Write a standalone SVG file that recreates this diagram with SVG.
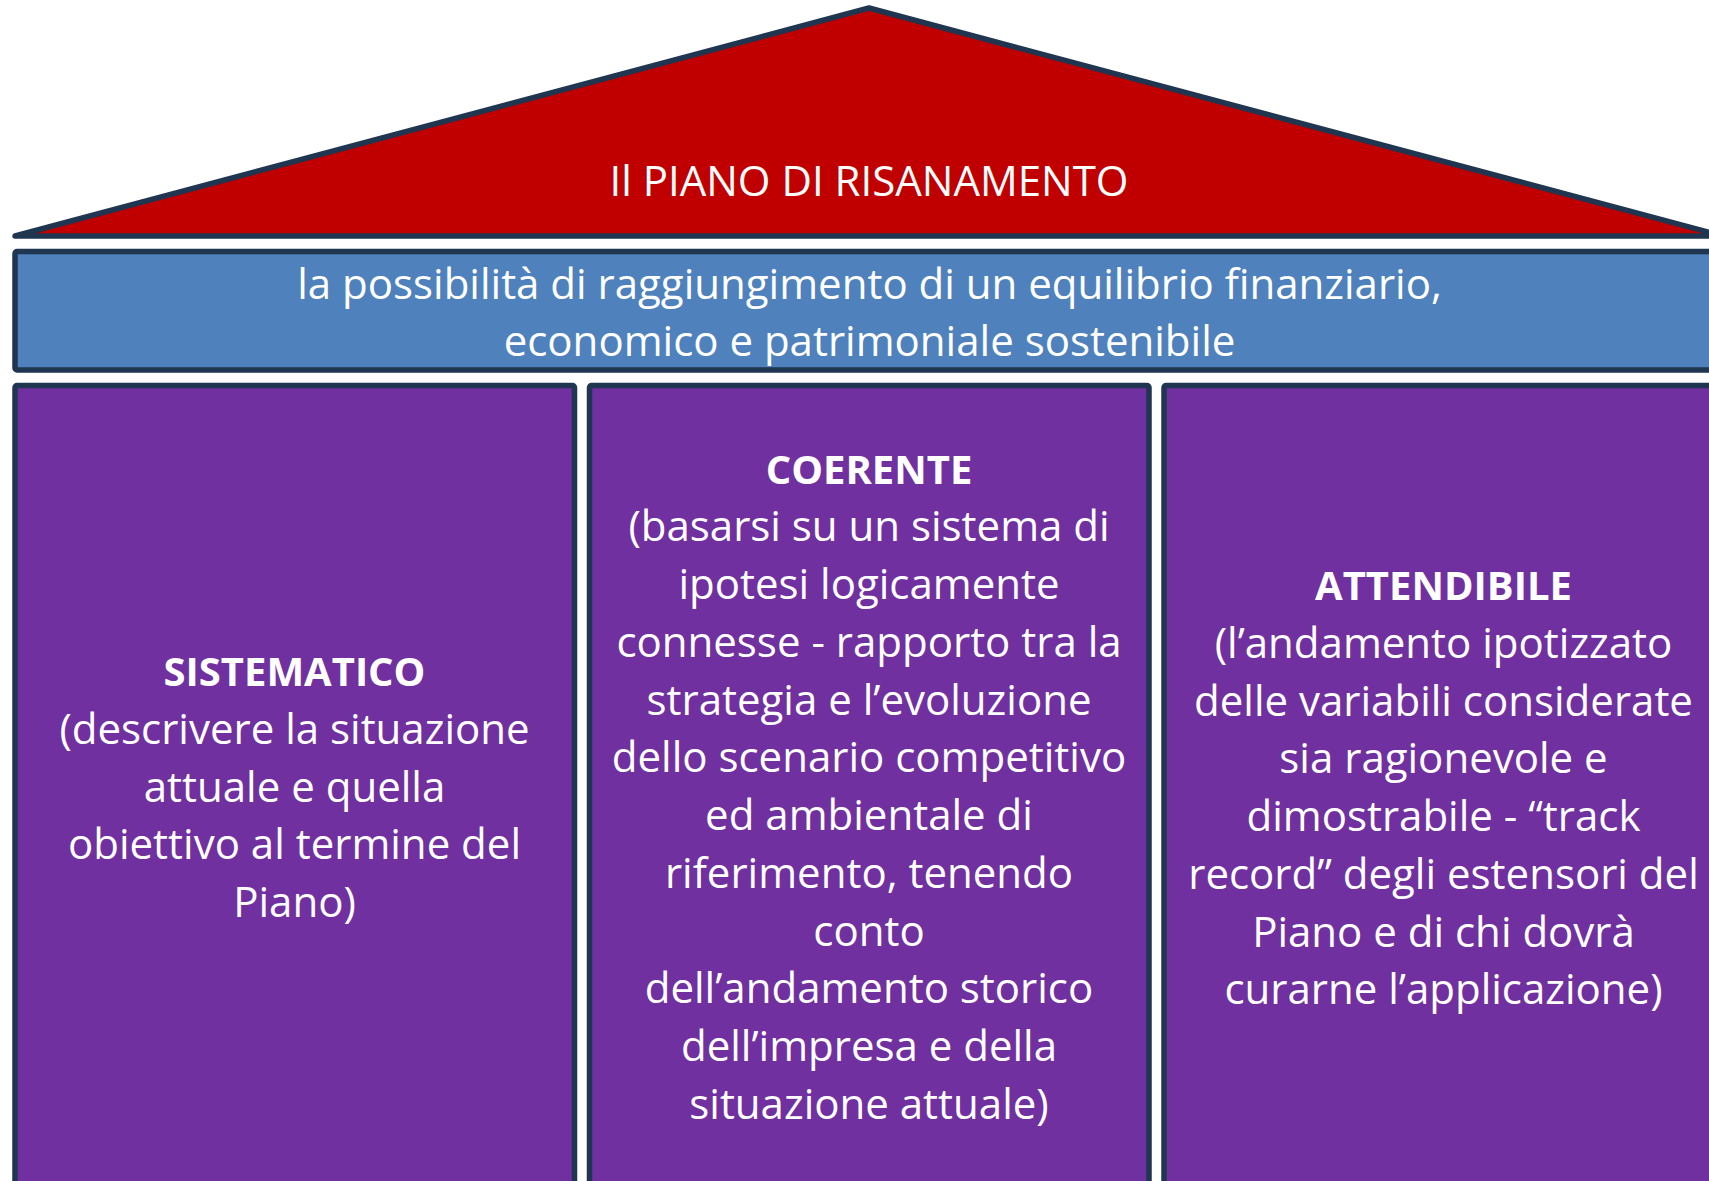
<svg xmlns="http://www.w3.org/2000/svg" width="1709" height="1181" viewBox="0 0 1709 1181">
<style>
.shape{stroke:#1f3550;stroke-width:5.5;stroke-linejoin:round}
.roof{fill:#c00000}
.band{fill:#4f81bd}
.col{fill:#7030a0}
.t{font-family:"Open Sans","Noto Sans","Liberation Sans",sans-serif;font-size:42px;fill:#ffffff;text-anchor:middle}
.b{font-weight:bold;font-size:40px}
</style>
<rect width="1709" height="1181" fill="#ffffff"/>
<g id="roof">
<polygon class="shape roof" points="15,236 869,8 1723,236"/>
<text class="t" x="869" y="196" font-size="41">Il PIANO DI RISANAMENTO</text>
</g>
<g id="banner">
<rect class="shape band" x="15" y="251.5" width="1708" height="118.5" rx="2"/>
<text class="t" x="869.5" y="298.5">la possibilità di raggiungimento di un equilibrio finanziario,</text>
<text class="t" x="869.5" y="356">economico e patrimoniale sostenibile</text>
</g>
<g id="col-sistematico">
<rect class="shape col" x="15" y="385.5" width="559.5" height="830" rx="2"/>
<text class="t b" x="294.5" y="686">SISTEMATICO</text>
<text class="t" x="294.5" y="743.75">(descrivere la situazione</text>
<text class="t" x="294.5" y="801.5">attuale e quella</text>
<text class="t" x="294.5" y="859.25">obiettivo al termine del</text>
<text class="t" x="294.5" y="917">Piano)</text>
</g>
<g id="col-coerente">
<rect class="shape col" x="589.5" y="385.5" width="559.5" height="830" rx="2"/>
<text class="t b" x="869" y="483.7">COERENTE</text>
<text class="t" x="869" y="541.45">(basarsi su un sistema di</text>
<text class="t" x="869" y="599.2">ipotesi logicamente</text>
<text class="t" x="869" y="656.95">connesse - rapporto tra la</text>
<text class="t" x="869" y="714.7">strategia e l’evoluzione</text>
<text class="t" x="869" y="772.45">dello scenario competitivo</text>
<text class="t" x="869" y="830.2">ed ambientale di</text>
<text class="t" x="869" y="887.95">riferimento, tenendo</text>
<text class="t" x="869" y="945.7">conto</text>
<text class="t" x="869" y="1003.45">dell’andamento storico</text>
<text class="t" x="869" y="1061.2">dell’impresa e della</text>
<text class="t" x="869" y="1118.95">situazione attuale)</text>
</g>
<g id="col-attendibile">
<rect class="shape col" x="1164" y="385.5" width="559.5" height="830" rx="2"/>
<text class="t b" x="1443.5" y="600">ATTENDIBILE</text>
<text class="t" x="1443.5" y="657.75">(l’andamento ipotizzato</text>
<text class="t" x="1443.5" y="715.5">delle variabili considerate</text>
<text class="t" x="1443.5" y="773.25">sia ragionevole e</text>
<text class="t" x="1443.5" y="831">dimostrabile - “track</text>
<text class="t" x="1443.5" y="888.75">record” degli estensori del</text>
<text class="t" x="1443.5" y="946.5">Piano e di chi dovrà</text>
<text class="t" x="1443.5" y="1004.25">curarne l’applicazione)</text>
</g>
<g id="connectors"></g>
</svg>
